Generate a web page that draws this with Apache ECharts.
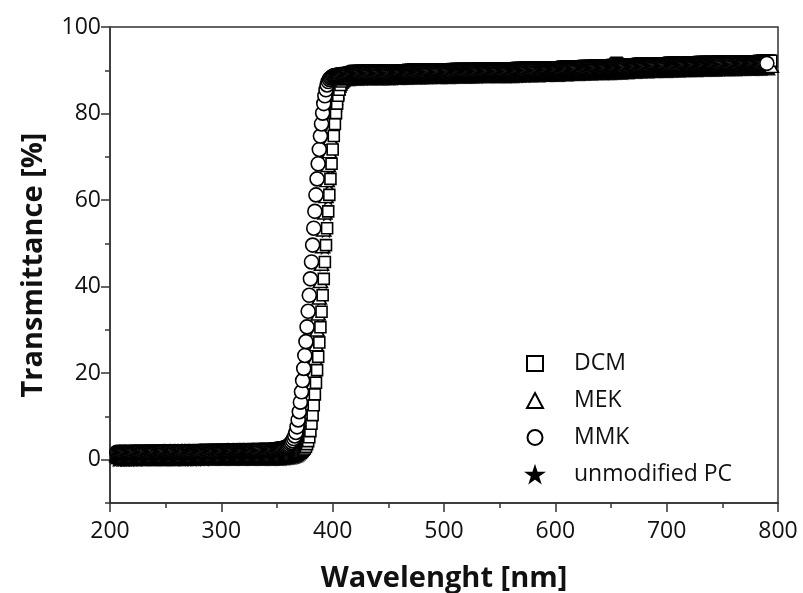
<!DOCTYPE html>
<html>
<head>
<meta charset="utf-8">
<script src="https://cdn.jsdelivr.net/npm/echarts@6.0.0/dist/echarts.min.js"></script>
<style>
  html, body { margin: 0; padding: 0; background: #fff; }
  #chart { width: 803px; height: 593px; }
</style>
</head>
<body>
<div id="chart"></div>
<script>
// transmittance spectra, one value per nm
var dcmStart = 206;
var dcm = [
  0.4,0.4,0.5,0.4,0.4,0.5,0.4,0.5,0.5,0.4,0.5,0.5,0.5,0.4,
  0.5,0.5,0.5,0.5,0.5,0.5,0.5,0.5,0.5,0.6,0.5,0.5,0.5,0.5,0.6,0.5,0.5,0.6,0.5,0.6,
  0.6,0.5,0.6,0.6,0.6,0.6,0.6,0.6,0.6,0.6,0.6,0.6,0.6,0.6,0.6,0.6,0.6,0.6,0.7,0.6,
  0.6,0.6,0.7,0.6,0.6,0.7,0.6,0.7,0.7,0.6,0.7,0.7,0.7,0.7,0.7,0.6,0.7,0.7,0.7,0.7,
  0.7,0.7,0.7,0.7,0.7,0.7,0.7,0.7,0.7,0.7,0.7,0.7,0.7,0.8,0.7,0.7,0.7,0.7,0.8,0.7,
  0.7,0.7,0.8,0.7,0.8,0.7,0.7,0.8,0.8,0.7,0.8,0.8,0.8,0.7,0.8,0.8,0.8,0.8,0.8,0.8,
  0.8,0.8,0.8,0.8,0.8,0.8,0.8,0.8,0.8,0.8,0.8,0.8,0.8,0.8,0.8,0.8,0.8,0.8,0.8,0.8,
  0.8,0.8,0.8,0.8,0.8,0.8,0.8,0.8,0.8,0.8,0.8,0.8,0.8,0.8,0.8,0.8,0.8,0.9,0.9,0.9,0.9,1.0,
  1.0,1.0,1.1,1.1,1.2,1.2,1.3,1.4,1.5,1.6,1.8,2.0,2.3,2.6,3.0,3.6,4.3,5.2,6.6,8.3,
  10.3,12.6,15.1,17.8,20.7,23.8,27.1,30.6,34.2,38.0,41.8,45.7,49.6,53.5,57.4,61.2,64.9,68.4,71.7,74.8,
  77.6,80.1,82.3,84.1,85.5,86.6,87.4,87.9,88.3,88.6,88.8,89.0,89.2,89.4,89.5,89.6,89.7,89.8,89.8,89.8,
  89.8,89.8,89.8,89.8,89.9,89.9,89.8,89.9,89.9,89.9,89.9,89.9,89.9,89.9,89.9,89.9,89.9,89.9,89.9,89.9,
  89.9,89.9,89.9,89.9,89.9,89.9,89.9,89.9,89.9,89.9,89.9,89.9,90.0,89.9,90.0,90.0,90.0,90.0,90.0,90.0,
  90.0,90.0,90.0,90.0,90.0,90.0,90.1,90.0,90.1,90.1,90.1,90.1,90.1,90.1,90.1,90.1,90.1,90.1,90.1,90.1,
  90.1,90.1,90.1,90.2,90.1,90.2,90.2,90.2,90.2,90.2,90.2,90.2,90.2,90.2,90.2,90.2,90.2,90.2,90.2,90.2,
  90.2,90.2,90.2,90.2,90.2,90.2,90.3,90.2,90.3,90.3,90.3,90.3,90.3,90.3,90.3,90.3,90.3,90.3,90.3,90.3,
  90.3,90.3,90.3,90.3,90.3,90.3,90.3,90.3,90.4,90.3,90.4,90.4,90.4,90.4,90.4,90.4,90.4,90.4,90.4,90.4,
  90.4,90.4,90.4,90.4,90.4,90.4,90.4,90.4,90.4,90.4,90.4,90.4,90.4,90.4,90.4,90.4,90.4,90.4,90.4,90.4,
  90.4,90.4,90.4,90.5,90.5,90.5,90.5,90.5,90.5,90.5,90.6,90.5,90.5,90.6,90.6,90.6,90.6,90.6,90.6,90.6,
  90.6,90.6,90.6,90.6,90.6,90.6,90.6,90.7,90.7,90.7,90.7,90.7,90.7,90.7,90.7,90.7,90.7,90.7,90.7,90.7,
  90.7,90.7,90.7,90.7,90.8,90.8,90.8,90.8,90.8,90.8,90.8,90.8,90.9,90.9,90.9,90.9,90.9,90.9,90.9,90.9,
  90.9,90.9,90.9,91.0,91.0,91.0,91.0,91.0,91.0,91.0,91.0,91.0,91.0,91.0,91.1,91.1,91.1,91.1,91.1,91.1,
  91.1,91.1,91.1,91.1,91.1,91.1,91.1,91.1,91.1,91.2,91.2,91.2,91.5,91.7,91.5,91.2,91.2,91.2,
  91.2,91.3,91.3,91.3,91.3,91.3,91.3,91.4,91.4,91.4,91.4,91.4,91.4,91.4,91.5,91.5,91.5,91.5,91.5,91.5,
  91.5,91.5,91.5,91.5,91.5,91.6,91.6,91.6,91.6,91.6,91.6,91.6,91.6,91.6,91.6,91.6,91.6,91.6,91.6,91.6,
  91.6,91.6,91.7,91.7,91.7,91.7,91.7,91.7,91.7,91.7,91.7,91.7,91.7,91.8,91.8,91.8,91.8,91.8,91.8,91.8,
  91.8,91.8,91.8,91.8,91.8,91.8,91.8,91.8,91.8,91.9,91.9,91.9,91.9,91.9,91.9,91.9,91.9,91.9,91.9,91.9,
  91.9,91.9,91.9,91.9,91.9,91.9,92.0,91.9,92.0,92.0,92.0,92.0,92.0,92.0,92.0,92.0,92.0,92.0,92.0,92.0,
  92.0,92.0,92.0,92.0,92.1,92.0,92.1,92.1,92.1,92.1,92.1,92.1,92.1,92.1,92.1,92.1,92.1,92.1,92.1,92.1,
  92.1,92.1,92.1,92.2,92.1,92.2,92.2,92.2,92.2,92.2,92.2,92.2,92.2,92.2,92.2
];

var mekStart = 206;
var mek = [
  1.0,1.0,1.0,1.1,1.0,1.0,1.0,1.0,1.1,1.0,1.0,1.1,1.0,1.0,
  1.0,1.1,1.0,1.1,1.0,1.1,1.1,1.0,1.1,1.1,1.1,1.0,1.1,1.1,1.1,1.1,1.1,1.0,1.1,1.1,
  1.1,1.1,1.1,1.1,1.1,1.1,1.1,1.1,1.1,1.1,1.1,1.1,1.1,1.1,1.1,1.1,1.1,1.1,1.1,1.1,
  1.1,1.1,1.1,1.1,1.2,1.1,1.1,1.1,1.2,1.1,1.1,1.2,1.1,1.1,1.2,1.1,1.2,1.1,1.2,1.2,
  1.2,1.1,1.2,1.2,1.2,1.2,1.1,1.2,1.2,1.2,1.2,1.2,1.2,1.2,1.2,1.2,1.2,1.2,1.2,1.2,
  1.2,1.2,1.2,1.2,1.2,1.2,1.2,1.2,1.2,1.2,1.2,1.2,1.2,1.2,1.2,1.2,1.2,1.2,1.2,1.2,
  1.2,1.2,1.2,1.2,1.2,1.2,1.2,1.2,1.2,1.2,1.2,1.2,1.2,1.2,1.2,1.2,1.2,1.2,1.2,1.2,
  1.2,1.2,1.2,1.2,1.2,1.2,1.2,1.2,1.2,1.2,1.2,1.2,1.2,1.2,1.3,1.3,1.3,1.3,1.4,1.4,1.4,1.5,
  1.5,1.6,1.6,1.7,1.8,1.9,2.0,2.2,2.4,2.7,3.0,3.4,4.0,4.6,5.4,6.7,8.4,10.3,12.5,15.0,
  17.6,20.4,23.4,26.6,30.0,33.7,37.4,41.2,45.2,49.2,53.1,57.0,60.8,64.5,68.0,71.2,74.2,76.9,79.3,81.4,
  83.1,84.5,85.6,86.4,86.9,87.3,87.6,87.8,88.0,88.1,88.2,88.3,88.4,88.4,88.4,88.5,88.5,88.5,88.5,88.5,
  88.5,88.5,88.5,88.5,88.6,88.6,88.5,88.6,88.6,88.6,88.6,88.6,88.6,88.6,88.6,88.6,88.6,88.6,88.6,88.6,
  88.6,88.6,88.6,88.6,88.6,88.6,88.6,88.6,88.6,88.6,88.6,88.6,88.7,88.6,88.7,88.7,88.7,88.7,88.7,88.7,
  88.7,88.7,88.7,88.7,88.7,88.7,88.8,88.7,88.8,88.8,88.8,88.8,88.8,88.8,88.8,88.8,88.8,88.8,88.8,88.8,
  88.8,88.8,88.8,88.9,88.8,88.9,88.9,88.9,88.9,88.9,88.9,88.9,88.9,88.9,88.9,88.9,88.9,88.9,88.9,88.9,
  88.9,88.9,88.9,88.9,88.9,88.9,89.0,88.9,89.0,89.0,89.0,89.0,89.0,89.0,89.0,89.0,89.0,89.0,89.0,89.0,
  89.0,89.0,89.0,89.0,89.0,89.0,89.0,89.0,89.1,89.0,89.1,89.1,89.1,89.1,89.1,89.1,89.1,89.1,89.1,89.1,
  89.1,89.1,89.1,89.1,89.1,89.1,89.1,89.1,89.1,89.1,89.1,89.1,89.1,89.1,89.1,89.1,89.1,89.1,89.1,89.1,
  89.1,89.1,89.1,89.2,89.2,89.2,89.2,89.2,89.2,89.2,89.3,89.2,89.2,89.3,89.3,89.3,89.3,89.3,89.3,89.3,
  89.3,89.3,89.3,89.3,89.3,89.3,89.3,89.4,89.4,89.4,89.4,89.4,89.4,89.4,89.4,89.4,89.4,89.4,89.4,89.4,
  89.4,89.4,89.4,89.4,89.5,89.5,89.5,89.5,89.5,89.5,89.5,89.5,89.6,89.6,89.6,89.6,89.6,89.6,89.6,89.6,
  89.6,89.6,89.6,89.7,89.7,89.7,89.7,89.7,89.7,89.7,89.7,89.7,89.7,89.7,89.8,89.8,89.8,89.8,89.8,89.8,
  89.8,89.8,89.8,89.8,89.8,89.8,89.8,89.8,89.8,89.8,89.8,89.9,89.9,89.9,89.9,89.9,89.9,89.9,89.9,89.9,
  89.9,90.0,90.0,90.0,90.0,90.0,90.0,90.1,90.1,90.1,90.1,90.1,90.1,90.1,90.2,90.2,90.2,90.2,90.2,90.2,
  90.2,90.2,90.2,90.2,90.2,90.3,90.3,90.3,90.3,90.3,90.3,90.3,90.3,90.3,90.3,90.3,90.3,90.3,90.3,90.3,
  90.3,90.3,90.4,90.4,90.4,90.4,90.4,90.4,90.4,90.4,90.4,90.4,90.4,90.5,90.5,90.5,90.5,90.5,90.5,90.5,
  90.5,90.5,90.5,90.5,90.5,90.5,90.5,90.5,90.5,90.6,90.6,90.6,90.6,90.6,90.6,90.6,90.6,90.6,90.6,90.6,
  90.6,90.6,90.6,90.6,90.6,90.6,90.7,90.6,90.7,90.7,90.7,90.7,90.7,90.7,90.7,90.7,90.7,90.7,90.7,90.7,
  90.7,90.7,90.7,90.7,90.8,90.7,90.8,90.8,90.8,90.8,90.8,90.8,90.8,90.8,90.8,90.8,90.8,90.8,90.8,90.8,
  90.8,90.8,90.8,90.9,90.8,90.9,90.9,90.9,90.9,90.9,90.9,90.9,90.9
];

var mmkStart = 206;
var mmk = [
  1.7,1.6,1.7,1.7,1.7,1.6,1.7,1.7,1.7,1.7,1.6,1.7,1.7,1.7,
  1.7,1.7,1.7,1.8,1.7,1.7,1.7,1.8,1.7,1.7,1.8,1.7,1.7,1.8,1.8,1.7,1.8,1.8,1.7,1.8,
  1.8,1.8,1.8,1.7,1.8,1.8,1.8,1.8,1.8,1.9,1.8,1.8,1.8,1.8,1.9,1.8,1.8,1.8,1.9,1.8,
  1.8,1.9,1.8,1.8,1.9,1.9,1.8,1.9,1.9,1.8,1.9,1.9,1.9,1.8,1.9,1.9,1.9,1.9,1.9,1.9,
  1.9,1.9,2.0,1.9,1.9,1.9,2.0,1.9,1.9,2.0,1.9,2.0,1.9,2.0,2.0,1.9,2.0,2.0,2.0,1.9,
  2.0,2.0,2.0,2.0,2.0,2.0,2.1,2.0,2.0,2.0,2.0,2.1,2.0,2.0,2.1,2.0,2.1,2.1,2.0,2.1,
  2.1,2.1,2.0,2.1,2.1,2.1,2.1,2.1,2.1,2.2,2.1,2.1,2.1,2.2,2.1,2.2,2.2,2.2,2.2,2.2,
  2.2,2.2,2.2,2.2,2.2,2.3,2.3,2.3,2.3,2.4,2.4,2.4,2.5,2.5,2.6,2.6,2.7,2.8,2.9,3.0,3.2,3.4,
  3.7,4.0,4.4,4.9,5.5,6.3,7.6,9.2,11.1,13.3,15.7,18.3,21.1,24.1,27.3,30.7,34.3,38.0,41.8,45.7,
  49.6,53.5,57.4,61.2,64.9,68.4,71.7,74.8,77.6,80.1,82.3,84.1,85.5,86.6,87.4,87.9,88.2,88.4,88.6,88.7,
  88.8,88.8,88.9,88.9,88.9,89.0,89.0,89.0,89.0,89.1,89.1,89.1,89.1,89.1,89.1,89.2,89.2,89.2,89.2,89.2,
  89.2,89.2,89.2,89.2,89.3,89.3,89.2,89.3,89.3,89.3,89.3,89.3,89.3,89.3,89.3,89.3,89.3,89.3,89.3,89.3,
  89.3,89.3,89.3,89.3,89.3,89.3,89.3,89.3,89.3,89.3,89.3,89.3,89.4,89.3,89.4,89.4,89.4,89.4,89.4,89.4,
  89.4,89.4,89.4,89.4,89.4,89.4,89.5,89.4,89.5,89.5,89.5,89.5,89.5,89.5,89.5,89.5,89.5,89.5,89.5,89.5,
  89.5,89.5,89.5,89.6,89.5,89.6,89.6,89.6,89.6,89.6,89.6,89.6,89.6,89.6,89.6,89.6,89.6,89.6,89.6,89.6,
  89.6,89.6,89.6,89.6,89.6,89.6,89.7,89.6,89.7,89.7,89.7,89.7,89.7,89.7,89.7,89.7,89.7,89.7,89.7,89.7,
  89.7,89.7,89.7,89.7,89.7,89.7,89.7,89.7,89.8,89.7,89.8,89.8,89.8,89.8,89.8,89.8,89.8,89.8,89.8,89.8,
  89.8,89.8,89.8,89.8,89.8,89.8,89.8,89.8,89.8,89.8,89.8,89.8,89.8,89.8,89.8,89.8,89.8,89.8,89.8,89.8,
  89.8,89.8,89.8,89.9,89.9,89.9,89.9,89.9,89.9,89.9,90.0,89.9,89.9,90.0,90.0,90.0,90.0,90.0,90.0,90.0,
  90.0,90.0,90.0,90.0,90.0,90.0,90.0,90.1,90.1,90.1,90.1,90.1,90.1,90.1,90.1,90.1,90.1,90.1,90.1,90.1,
  90.1,90.1,90.1,90.1,90.2,90.2,90.2,90.2,90.2,90.2,90.2,90.2,90.3,90.3,90.3,90.3,90.3,90.3,90.3,90.3,
  90.3,90.3,90.3,90.4,90.4,90.4,90.4,90.4,90.4,90.4,90.4,90.4,90.4,90.4,90.5,90.5,90.5,90.5,90.5,90.5,
  90.5,90.5,90.5,90.5,90.5,90.5,90.5,90.5,90.5,90.5,90.5,90.6,90.6,90.6,90.6,90.6,90.6,90.6,90.6,90.6,
  90.6,90.7,90.7,90.7,90.7,90.7,90.7,90.8,90.8,90.8,90.8,90.8,90.8,90.8,90.9,90.9,90.9,90.9,90.9,90.9,
  90.9,90.9,90.9,90.9,90.9,91.0,91.0,91.0,91.0,91.0,91.0,91.0,91.0,91.0,91.0,91.0,91.0,91.0,91.0,91.0,
  91.0,91.0,91.1,91.1,91.1,91.1,91.1,91.1,91.1,91.1,91.1,91.1,91.1,91.2,91.2,91.2,91.2,91.2,91.2,91.2,
  91.2,91.2,91.2,91.2,91.2,91.2,91.2,91.2,91.2,91.3,91.3,91.3,91.3,91.3,91.3,91.3,91.3,91.3,91.3,91.3,
  91.3,91.3,91.3,91.3,91.3,91.3,91.4,91.3,91.4,91.4,91.4,91.4,91.4,91.4,91.4,91.4,91.4,91.4,91.4,91.4,
  91.4,91.4,91.4,91.4,91.5,91.4,91.5,91.5,91.5,91.5,91.5,91.5,91.5,91.5,91.5,91.5,91.5,91.5,91.5,91.5,
  91.5,91.5,91.5,91.6,91.5,91.6,91.6,91.6,91.6
];

var pcStart = 206;
var pc = [
  -0.1,-0.1,0.0,-0.1,-0.1,-0.1,0.0,-0.1,-0.1,0.0,-0.1,0.0,-0.1,0.0,
  0.0,-0.1,0.0,0.0,0.0,-0.1,0.0,0.0,0.0,0.0,0.0,0.0,0.0,0.0,0.0,0.0,0.0,0.0,0.0,0.0,
  0.0,0.0,0.0,0.0,0.0,0.0,0.0,0.0,0.0,0.0,0.0,0.0,0.0,0.0,0.0,0.0,0.0,0.0,0.0,0.0,
  0.0,0.0,0.0,0.1,0.0,0.0,0.0,0.0,0.1,0.0,0.0,0.0,0.1,0.0,0.0,0.1,0.0,0.1,0.0,0.1,
  0.1,0.0,0.1,0.1,0.1,0.0,0.1,0.1,0.1,0.1,0.1,0.1,0.1,0.1,0.1,0.1,0.1,0.1,0.1,0.1,
  0.1,0.1,0.1,0.1,0.1,0.1,0.1,0.1,0.1,0.1,0.1,0.1,0.1,0.1,0.1,0.1,0.1,0.1,0.1,0.1,
  0.1,0.1,0.1,0.1,0.1,0.1,0.1,0.1,0.1,0.1,0.1,0.1,0.1,0.1,0.1,0.1,0.1,0.1,0.1,0.1,
  0.1,0.1,0.1,0.1,0.1,0.1,0.1,0.1,0.1,0.1,0.1,0.1,0.1,0.1,0.1,0.1,0.2,0.2,0.2,0.2,0.3,0.3,
  0.3,0.4,0.4,0.5,0.5,0.6,0.7,0.8,0.9,1.1,1.3,1.6,1.9,2.3,2.8,3.5,4.3,5.7,7.3,9.3,
  11.6,14.1,16.8,19.7,22.8,26.1,29.6,33.3,37.1,41.0,45.0,48.9,52.8,56.6,60.3,63.9,67.3,70.4,73.3,75.9,
  78.2,80.1,81.7,83.0,84.1,85.0,85.7,86.3,86.8,87.2,87.5,87.7,87.8,87.8,87.8,87.9,87.9,87.9,87.9,87.9,
  87.9,87.9,87.9,87.9,88.0,88.0,87.9,88.0,88.0,88.0,88.0,88.0,88.0,88.0,88.0,88.0,88.0,88.0,88.0,88.0,
  88.0,88.0,88.0,88.0,88.0,88.0,88.0,88.0,88.0,88.0,88.0,88.0,88.1,88.0,88.1,88.1,88.1,88.1,88.1,88.1,
  88.1,88.1,88.1,88.1,88.1,88.1,88.2,88.1,88.2,88.2,88.2,88.2,88.2,88.2,88.2,88.2,88.2,88.2,88.2,88.2,
  88.2,88.2,88.2,88.3,88.2,88.3,88.3,88.3,88.3,88.3,88.3,88.3,88.3,88.3,88.3,88.3,88.3,88.3,88.3,88.3,
  88.3,88.3,88.3,88.3,88.3,88.3,88.4,88.3,88.4,88.4,88.4,88.4,88.4,88.4,88.4,88.4,88.4,88.4,88.4,88.4,
  88.4,88.4,88.4,88.4,88.4,88.4,88.4,88.4,88.5,88.4,88.5,88.5,88.5,88.5,88.5,88.5,88.5,88.5,88.5,88.5,
  88.5,88.5,88.5,88.5,88.5,88.5,88.5,88.5,88.5,88.5,88.5,88.5,88.5,88.5,88.5,88.5,88.5,88.5,88.5,88.5,
  88.5,88.5,88.5,88.6,88.6,88.6,88.6,88.6,88.6,88.6,88.7,88.6,88.6,88.7,88.7,88.7,88.7,88.7,88.7,88.7,
  88.7,88.7,88.7,88.7,88.7,88.7,88.7,88.8,88.8,88.8,88.8,88.8,88.8,88.8,88.8,88.8,88.8,88.8,88.8,88.8,
  88.8,88.8,88.8,88.8,88.9,88.9,88.9,88.9,88.9,88.9,88.9,88.9,89.0,89.0,89.0,89.0,89.0,89.0,89.0,89.0,
  89.0,89.0,89.0,89.1,89.1,89.1,89.1,89.1,89.1,89.1,89.1,89.1,89.1,89.1,89.2,89.2,89.2,89.2,89.2,89.2,
  89.2,89.2,89.2,89.2,89.2,89.2,89.2,89.2,89.2,89.2,89.2,89.3,89.3,89.3,89.3,89.3,89.3,89.3,89.3,89.3,
  89.3,89.4,89.4,89.4,89.4,89.4,89.4,89.5,89.5,89.5,89.5,89.5,89.5,89.5,89.6,89.6,89.6,89.6,89.6,89.6,
  89.6,89.6,89.6,89.6,89.6,89.7,89.7,89.7,89.7,89.7,89.7,89.7,89.7,89.7,89.7,89.7,89.7,89.7,89.7,89.7,
  89.7,89.7,89.8,89.8,89.8,89.8,89.8,89.8,89.8,89.8,89.8,89.8,89.8,89.9,89.9,89.9,89.9,89.9,89.9,89.9,
  89.9,89.9,89.9,89.9,89.9,89.9,89.9,89.9,89.9,90.0,90.0,90.0,90.0,90.0,90.0,90.0,90.0,90.0,90.0,90.0,
  90.0,90.0,90.0,90.0,90.0,90.0,90.1,90.0,90.1,90.1,90.1,90.1,90.1,90.1,90.1,90.1,90.1,90.1,90.1,90.1,
  90.1,90.1,90.1,90.1,90.2,90.1,90.2,90.2,90.2,90.2,90.2,90.2,90.2,90.2,90.2,90.2,90.2,90.2,90.2,90.2,
  90.2,90.2,90.2,90.3,90.2,90.3,90.3,90.3,90.3,90.3,90.3,90.3,90.3
];

var xTicks = [200, 300, 400, 500, 600, 700, 800];
var yTicks = [0, 20, 40, 60, 80, 100];
var legendNames = ['DCM', 'MEK', 'MMK', 'unmodified PC'];

var starPath = 'path://M12,0L14.8,8.6L23.8,8.6L16.5,13.9L19.3,22.5L12,17.2L4.7,22.5L7.5,13.9L0.2,8.6L9.2,8.6Z';
var FONT = 'Open Sans';

function toPoints(start, vals) {
  return vals.map(function (v, i) { return [start + i, v]; });
}

var chart = echarts.init(document.getElementById('chart'), null, { renderer: 'canvas' });

var openStyle = { color: '#fff', borderColor: '#000', borderWidth: 1.6, opacity: 1 };
var axisStroke = { color: '#333', width: 1.5 };

var option = {
  animation: false,
  grid: {
    left: 110, right: 25, top: 27, bottom: 90,
    outerBoundsMode: 'none',
    show: true, borderColor: '#333', borderWidth: 1.5, backgroundColor: 'transparent'
  },
  legend: {
    orient: 'vertical',
    left: 521, top: 347,
    itemWidth: 16, itemHeight: 15,
    itemGap: 14,
    data: legendNames,
    textStyle: { fontFamily: FONT, fontSize: 23, color: '#111', padding: [0, 0, 0, 26] },
    selectedMode: false
  },
  xAxis: {
    type: 'value', min: 200, max: 800, interval: 100,
    axisLine: { onZero: false, lineStyle: axisStroke },
    axisTick: { length: 9, lineStyle: axisStroke },
    minorTick: { show: true, splitNumber: 2, length: 5, lineStyle: axisStroke },
    splitLine: { show: false },
    axisLabel: {
      fontFamily: FONT, fontSize: 23, color: '#111', margin: 17,
      customValues: xTicks
    },
    name: 'Wavelenght [nm]',
    nameLocation: 'middle', nameGap: 61,
    nameTextStyle: { fontFamily: FONT, fontSize: 29, fontWeight: 'bold', color: '#111' }
  },
  yAxis: [
    {
      // minor ticks at -10, 10, 30 ...
      type: 'value', min: -10, max: 100, interval: 20,
      axisLine: { show: true, onZero: false, lineStyle: axisStroke },
      axisTick: { show: true, length: 5, lineStyle: axisStroke },
      axisLabel: { show: false },
      splitLine: { show: false }
    },
    {
      type: 'value', min: -10, max: 100, position: 'left',
      axisLine: { show: false, onZero: false },
      axisTick: { show: true, length: 9, customValues: yTicks, lineStyle: axisStroke },
      axisLabel: { fontFamily: FONT, fontSize: 23, color: '#111', margin: 9, customValues: yTicks },
      splitLine: { show: false },
      name: 'Transmittance [%]',
      nameLocation: 'middle', nameGap: 62,
      nameTextStyle: { fontFamily: FONT, fontSize: 29, fontWeight: 'bold', color: '#111' }
    }
  ],
  series: [
    {
      name: 'unmodified PC', type: 'scatter', symbol: starPath, symbolSize: 13,
      itemStyle: { color: '#000', borderColor: '#000', borderWidth: 0.5, opacity: 1 },
      data: toPoints(pcStart, pc)
    },
    {
      name: 'MEK', type: 'scatter', symbol: 'triangle', symbolSize: [14, 12],
      itemStyle: openStyle,
      data: toPoints(mekStart, mek)
    },
    {
      name: 'DCM', type: 'scatter', symbol: 'rect', symbolSize: 11,
      itemStyle: openStyle,
      data: toPoints(dcmStart, dcm)
    },
    {
      name: 'MMK', type: 'scatter', symbol: 'circle', symbolSize: 14,
      itemStyle: openStyle,
      data: toPoints(mmkStart, mmk)
    }
  ]
};

chart.setOption(option);
</script>
</body>
</html>
